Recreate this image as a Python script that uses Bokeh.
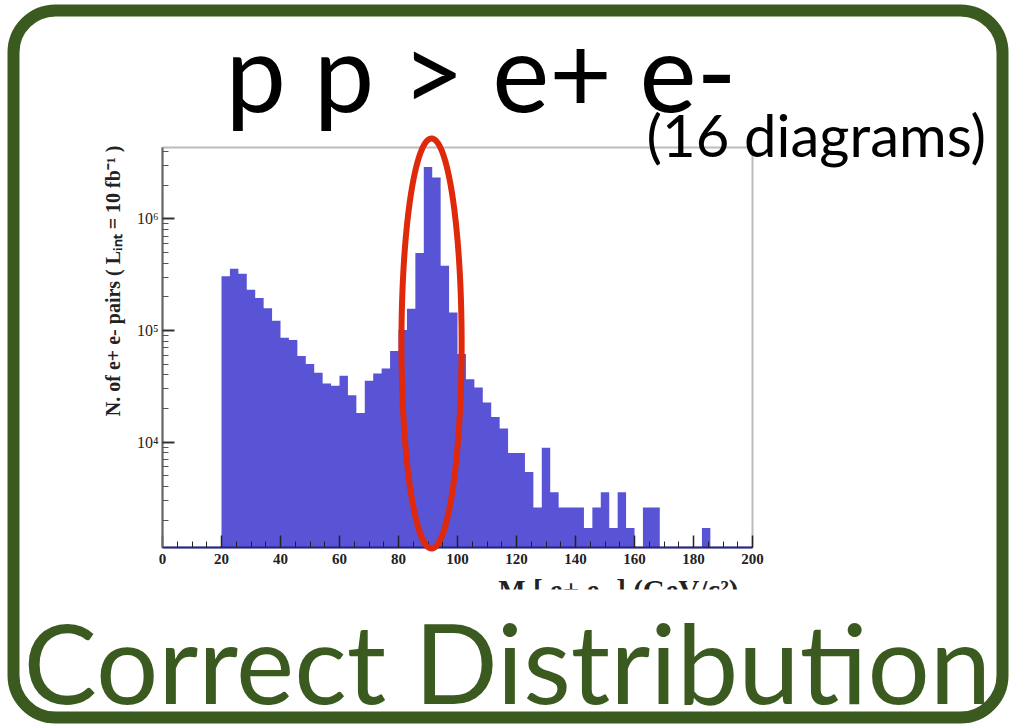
import numpy as np
from bokeh.plotting import figure
from bokeh.models import Label, BoxAnnotation, PolyAnnotation, FixedTicker, ColumnDataSource, Range1d
from bokeh.embed import file_html
from bokeh.resources import INLINE

# ---- data ----
x_lo, x_hi, n_bins = 0.0, 200.0, 70
counts = [0, 0, 0, 0, 0, 0, 0,
          305000, 357000, 322000, 231000, 195000, 158000, 122000, 86000, 82000, 59000,
          50000, 41700, 33500, 32000, 39300, 26300, 18200, 35400, 41200, 45700,
          65400, 101000, 156000, 494000, 2910000, 2340000, 380000, 145000, 61500, 36600,
          30800, 22600, 16800, 13200, 8000, 8000, 5400, 2600, 8900, 3550,
          2600, 2600, 2600, 1700, 2600, 3550, 1700, 3550, 1700, 0,
          2600, 2600, 0, 0, 0, 0, 0, 1700, 0, 0, 0, 0, 0]
x_ticks = [0, 20, 40, 60, 80, 100, 120, 140, 160, 180, 200]
x_minor = list(range(0, 201, 5))
y_min, y_max = 1137.0, 4.35e6
y_ticks = [10000, 100000, 1000000]
y_tick_labels = {10000: "10⁴", 100000: "10⁵", 1000000: "10⁶"}
y_minor = [k * 10 ** d for d in range(3, 7) for k in range(2, 10) if y_min < k * 10 ** d < y_max]
z_mass = 91.2

title_text = "p p > e+ e-"
subtitle_text = "(16 diagrams)"
footer_text = "Correct Distribution"
ytitle_text = "N. of e+ e- pairs ( Lᵢₙₜ = 10 fb⁻¹ )"
xtitle_text = "M [ e+ e- ] (GeV/c²)"

GREEN = "#3b5a1f"
BLUE = "#5953d6"
RED = "#e0280a"

# ---- layout (pixels) ----
W, H = 1012, 727
box_l, box_r, box_t, box_b = 162, 752, 147, 547   # histogram box on the page

sx = (box_r - box_l) / (x_hi - x_lo)
x0 = x_lo - box_l / sx
x1 = x0 + W / sx
dec = (box_b - box_t) / (np.log10(y_max) - np.log10(y_min))
ly_top = np.log10(y_max) + box_t / dec
ly_bot = np.log10(y_min) - (H - box_b) / dec

def py(page_y):   # page y (from top) -> screen y (from bottom)
    return H - page_y

edges = np.linspace(x_lo, x_hi, n_bins + 1)
cnt = np.array(counts, dtype=float)
step_y = np.where(cnt > 0, cnt, y_min)
step_y = np.append(step_y, step_y[-1])
src = ColumnDataSource(dict(x=edges, y1=np.full(len(edges), y_min), y2=step_y))

p = figure(width=W, height=H, x_range=Range1d(x0, x1),
           y_range=Range1d(10 ** ly_bot, 10 ** ly_top),
           y_axis_type="log", output_backend="svg", toolbar_location=None,
           min_border_left=0, min_border_right=0, min_border_top=0,
           min_border_bottom=0)
p.grid.visible = False
p.outline_line_color = None
p.background_fill_color = "white"
p.border_fill_color = "white"

p.varea_step(x="x", y1="y1", y2="y2", step_mode="after", source=src,
             fill_color=BLUE, fill_alpha=1.0)

# histogram box (top/right thin grey edges)
p.add_layout(BoxAnnotation(left=x_lo, right=x_hi, bottom=y_min, top=y_max,
                           fill_alpha=0, line_color="#bcbcbc", line_alpha=1.0,
                           line_width=2, level="underlay"))

# axes
xa = p.xaxis[0]
xa.fixed_location = y_min
xa.bounds = (x_lo, x_hi)
xa.ticker = FixedTicker(ticks=x_ticks, minor_ticks=x_minor)
xa.major_tick_in = 12
xa.major_tick_out = 0
xa.minor_tick_in = 6
xa.minor_tick_out = 0
xa.major_tick_line_color = "#222222"
xa.minor_tick_line_color = "#222222"
xa.major_tick_line_width = 1.5
xa.axis_line_color = "#23238c"
xa.axis_line_width = 2
xa.major_label_text_font = "Liberation Serif"
xa.major_label_text_font_style = "bold"
xa.major_label_text_font_size = "15px"
xa.major_label_text_color = "#222222"
xa.major_label_standoff = 6

ya = p.yaxis[0]
ya.fixed_location = x_lo
ya.bounds = (y_min, y_max)
ya.ticker = FixedTicker(ticks=y_ticks, minor_ticks=y_minor)
ya.major_label_overrides = y_tick_labels
ya.major_tick_in = 12
ya.major_tick_out = 0
ya.minor_tick_in = 6
ya.minor_tick_out = 0
ya.major_tick_line_color = "#333333"
ya.minor_tick_line_color = "#555555"
ya.major_tick_line_width = 2
ya.axis_line_color = "#666666"
ya.axis_line_width = 2
ya.major_label_text_font = "Liberation Serif"
ya.major_label_text_font_size = "16px"
ya.major_label_text_color = "#222222"
ya.major_label_standoff = 4

# red ellipse around the Z peak
t = np.linspace(0, 2 * np.pi, 240)
half_w_gev = 10.2
p.add_layout(PolyAnnotation(xs=list(z_mass + half_w_gev * np.cos(t)),
                            ys=list(py(343) + 205 * np.sin(t)),
                            xs_units="data", ys_units="screen",
                            fill_alpha=0, line_color=RED, line_alpha=1.0, line_width=6))

def lab(text, x, y, **kw):
    l = Label(text=text, x=x, y=y, x_units="screen", y_units="screen", **kw)
    p.add_layout(l)
    return l

lab(ytitle_text, 112, py(145), angle=np.pi / 2, text_font="Liberation Serif",
    text_font_style="bold", text_font_size="20px", text_color="#222222",
    text_baseline="middle", text_align="right")
lab(xtitle_text, 738, py(589), text_font="Liberation Serif", text_font_style="bold",
    text_font_size="29px", text_color="#222222", text_baseline="alphabetic",
    text_align="right")
# white mask: the pasted picture is cut just below the top of the x title
p.add_layout(BoxAnnotation(left=480, right=760, top=py(589), bottom=py(616),
                           left_units="screen", right_units="screen",
                           top_units="screen", bottom_units="screen",
                           fill_color="white", fill_alpha=1.0, line_alpha=0))

lab(title_text, 225, py(69), text_font="Lato", text_font_size="108px",
    text_color="black", text_baseline="alphabetic", text_align="left")
lab(subtitle_text, 646, py(134), text_font="Lato", text_font_size="58px",
    text_color="black", text_baseline="alphabetic", text_align="left")
lab(footer_text, 23, py(660), text_font="Lato", text_font_size="110px",
    text_color=GREEN, text_baseline="alphabetic", text_align="left")

# outer rounded green frame
p.add_layout(BoxAnnotation(left=13, right=1002, top=py(10), bottom=py(717),
                           left_units="screen", right_units="screen",
                           top_units="screen", bottom_units="screen",
                           fill_alpha=0, line_color=GREEN, line_alpha=1.0, line_width=12,
                           border_radius=42))

open("out.html", "w").write(file_html(p, INLINE))
